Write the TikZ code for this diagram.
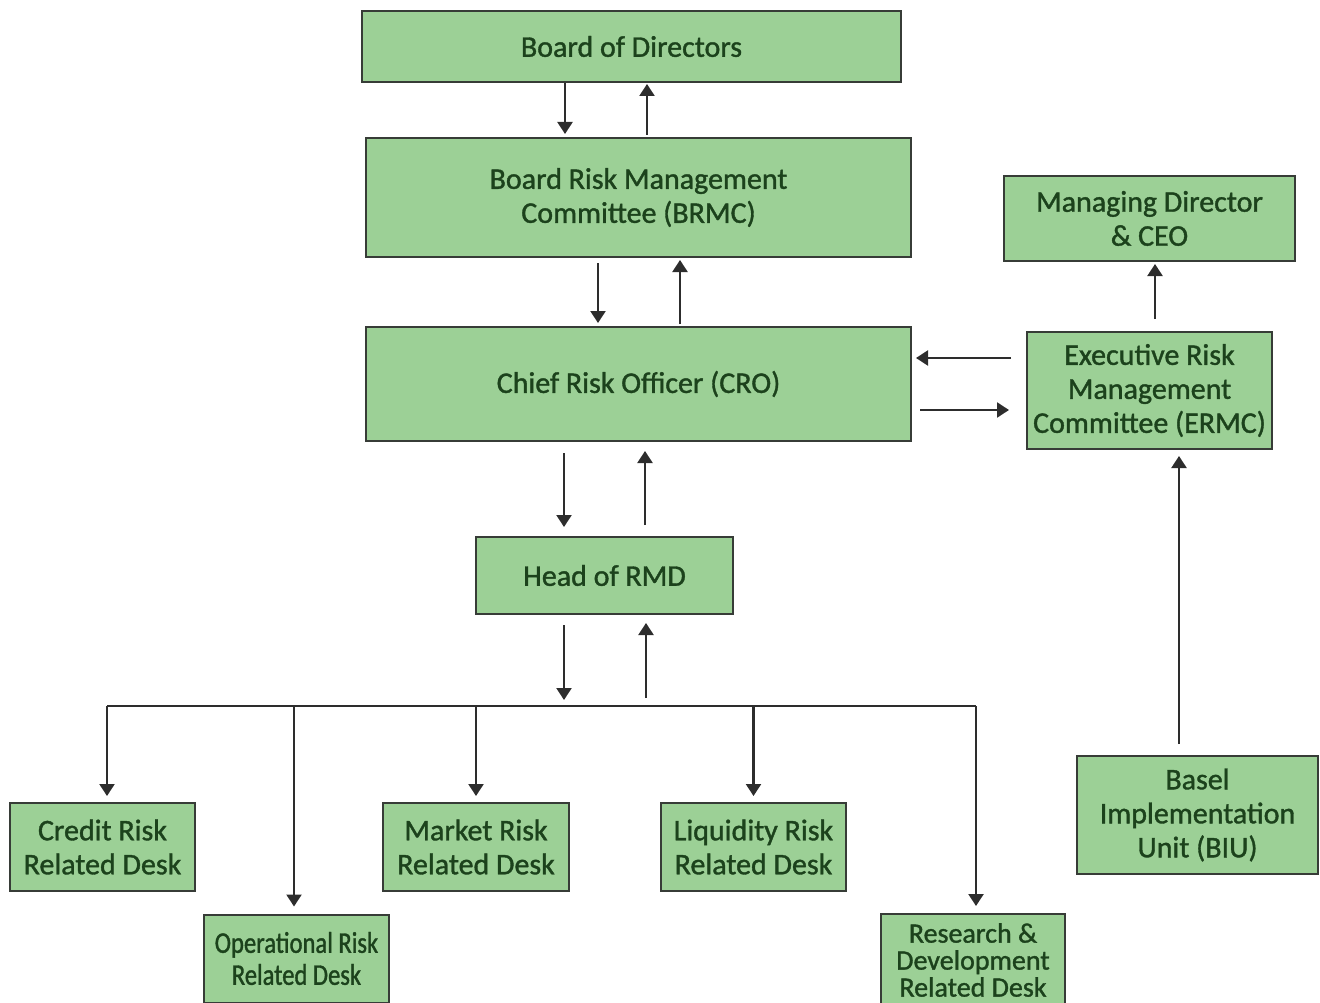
\documentclass[tikz,border=0pt]{standalone}
\usepackage{fontspec}
\setmainfont{Carlito}
\newfontfamily\boxfont[FakeBold=1.2]{Carlito}
\newfontfamily\narrowfont[FakeStretch=0.82,FakeBold=1.2]{Carlito}
\usetikzlibrary{arrows.meta}
\definecolor{boxfill}{RGB}{156,208,150}
\definecolor{boxtext}{RGB}{28,66,28}
\definecolor{boxline}{RGB}{55,60,55}
\definecolor{arrline}{RGB}{45,45,45}

\begin{document}
\begin{tikzpicture}[x=1pt,y=-1pt,
  box/.style={draw=boxline,line width=2pt,fill=boxfill,text=boxtext,align=center,inner sep=0pt,font=\fontsize{30}{34}\boxfont},
  arr/.style={draw=arrline,line width=2.3pt,-{Triangle[width=15pt,length=12pt]}},
  busline/.style={draw=arrline,line width=2.3pt}]

\useasboundingbox (0,0) rectangle (1320,1003);

% top of the chain
\node[box,minimum width=539,minimum height=71] (bod) at (631.5,46.5) {Board of Directors};
\node[box,minimum width=545,minimum height=119] (brmc) at (638.5,197.5) {Board Risk Management\\Committee (BRMC)};
\node[box,minimum width=545,minimum height=114] (cro) at (638.5,384) {Chief Risk Officer (CRO)};
\node[box,minimum width=257,minimum height=77] (rmd) at (604.5,575.5) {Head of RMD};

% right side
\node[box,minimum width=291,minimum height=85] (ceo) at (1149.5,218.5) {Managing Director\\\& CEO};
\node[box,minimum width=245,minimum height=117] (ermc) at (1149.5,390.5) {Executive Risk\\Management\\Committee (ERMC)};
\node[box,minimum width=241,minimum height=118] (basel) at (1197.5,815) {Basel\\Implementation\\Unit (BIU)};

% desks
\node[box,minimum width=185,minimum height=88] (credit) at (102.5,847) {Credit Risk\\Related Desk};
\node[box,minimum width=185,minimum height=88,font=\fontsize{30}{32}\narrowfont] (oper) at (296.5,958.5) {Operational Risk\\Related Desk};
\node[box,minimum width=186,minimum height=88] (market) at (476,847) {Market Risk\\Related Desk};
\node[box,minimum width=185,minimum height=88] (liquid) at (753.5,847) {Liquidity Risk\\Related Desk};
\node[box,minimum width=184,minimum height=92,font=\fontsize{28}{27}\boxfont] (rnd) at (973,960) {Research \&\\Development\\Related Desk};

\draw[arr,shorten >=3] ([xshift=-66.5]bod.south) -- ([xshift=-73.5]brmc.north);
\draw[arr,shorten <=2,shorten >=1] ([xshift=8.5]brmc.north) -- ([xshift=15.5]bod.south);

\draw[arr,shorten <=5,shorten >=3] ([xshift=-40.5]brmc.south) -- ([xshift=-40.5]cro.north);
\draw[arr,shorten <=2,shorten >=2] ([xshift=41.5]cro.north) -- ([xshift=41.5]brmc.south);

\draw[arr,shorten <=15,shorten >=4] ([yshift=32.5]ermc.west) -- ([yshift=32.5]ermc.west -| cro.east);
\draw[arr,shorten <=8,shorten >=17] ([yshift=-19.5]ermc.west -| cro.east) -- ([yshift=-19.5]ermc.west);

\draw[arr,shorten <=12,shorten >=2] ([xshift=5.5]ermc.north) -- ([xshift=5.5]ermc.north |- ceo.south);
\draw[arr,shorten <=11,shorten >=6] ([xshift=-18.5]basel.north) -- ([xshift=-18.5]basel.north |- ermc.south);

\draw[arr,shorten <=11,shorten >=9] ([xshift=-40.5]rmd.north |- cro.south) -- ([xshift=-40.5]rmd.north);
\draw[arr,shorten <=11,shorten >=9] ([xshift=40.5]rmd.north) -- ([xshift=40.5]rmd.north |- cro.south);

% distribution line
\coordinate (busl) at (107,706);
\coordinate (busr) at (976,706);
\draw[busline] (busl) -- (busr);

\draw[arr,shorten <=10,shorten >=6] ([xshift=-40.5]rmd.south) -- ([xshift=-40.5]rmd.south |- busl);
\draw[arr,shorten <=8,shorten >=8] ([xshift=41.5]rmd.south |- busl) -- ([xshift=41.5]rmd.south);

\draw[arr,shorten >=6] (busl) -- (busl |- credit.north);
\draw[arr,shorten >=7] ([xshift=-2.5]oper.north |- busl) -- ([xshift=-2.5]oper.north);
\draw[arr,shorten >=6] (market.north |- busl) -- (market.north);
\draw[arr,shorten >=6] (liquid.north |- busl) -- (liquid.north);
\draw[arr,shorten >=7] (busr) -- (busr |- rnd.north);

\end{tikzpicture}
\end{document}
